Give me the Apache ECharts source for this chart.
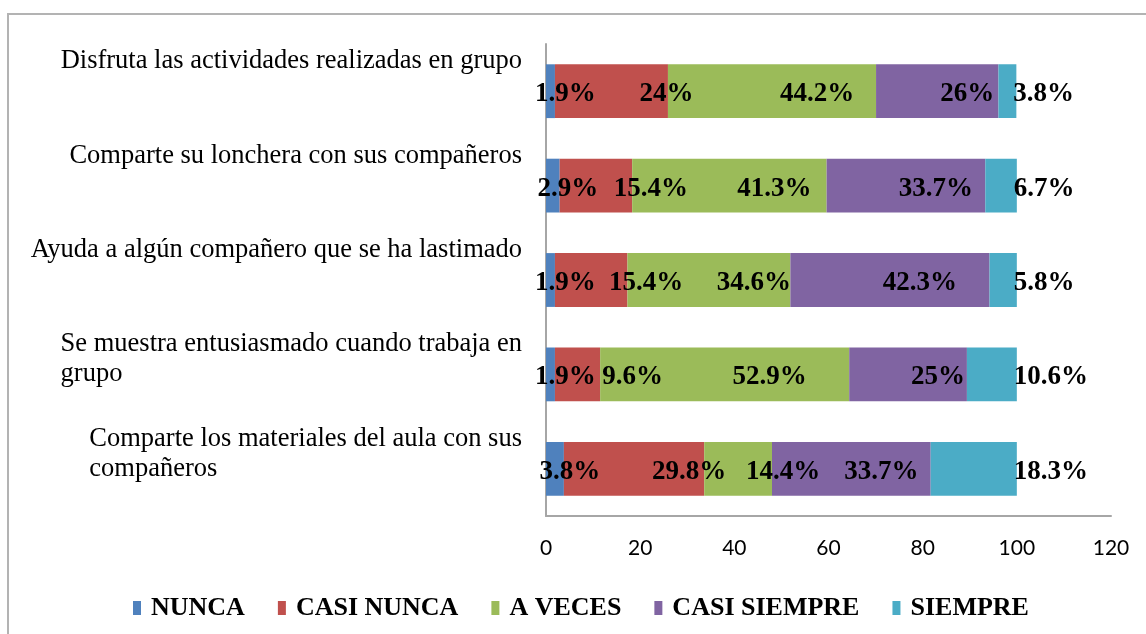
<!DOCTYPE html>
<html>
<head>
<meta charset="utf-8">
<script src="https://cdn.jsdelivr.net/npm/echarts@6/dist/echarts.min.js"></script>
<style>
  html, body { margin: 0; padding: 0; background: #fff; }
  #chart { width: 1146px; height: 634px; }
</style>
</head>
<body>
<div id="chart"></div>
<script>
// datos (porcentajes)
var categorias = [
    'Disfruta las actividades realizadas en grupo',
    'Comparte su lonchera con sus compañeros',
    'Ayuda a algún compañero que se ha lastimado',
    'Se muestra entusiasmado cuando trabaja en grupo',
    'Comparte los materiales del aula con sus compañeros'
];
var nunca        = [1.9, 2.9, 1.9, 1.9, 3.8];
var casiNunca    = [24, 15.4, 15.4, 9.6, 29.8];
var aVeces       = [44.2, 41.3, 34.6, 52.9, 14.4];
var casiSiempre  = [26, 33.7, 42.3, 25, 33.7];
var siempre      = [3.8, 6.7, 5.8, 10.6, 18.3];
var xTicks = [0, 20, 40, 60, 80, 100, 120];

var serif = '"Liberation Serif", "Times New Roman", serif';

// corta el texto en lineas de como maximo maxW px
var ctx = document.createElement('canvas').getContext('2d');
ctx.font = '26.5px ' + serif;
function cortar(text, maxW) {
    var words = text.split(' '), lines = [], cur = '';
    words.forEach(function (w) {
        var test = cur ? cur + ' ' + w : w;
        if (ctx.measureText(test).width > maxW && cur) {
            lines.push(cur);
            cur = w;
        } else {
            cur = test;
        }
    });
    lines.push(cur);
    return lines;
}

function serie(name, data, color, label) {
    return {
        name: name,
        type: 'bar',
        stack: 'total',
        barCategoryGap: '43%',
        data: data,
        itemStyle: { color: color },
        label: Object.assign({
            show: true,
            color: '#000',
            fontFamily: serif,
            fontWeight: 'bold',
            fontSize: 27,
            formatter: function (p) { return p.value + '%'; }
        }, label)
    };
}

var myChart = echarts.init(document.getElementById('chart'));
var option = {
    backgroundColor: '#fff',
    animation: false,
    graphic: [{
        type: 'rect',
        shape: { x: 8, y: 14, width: 1300, height: 800 },
        style: { fill: 'none', stroke: '#b3b3b3', lineWidth: 2 },
        silent: true
    }],
    legend: {
        left: 128,
        top: 590,
        itemWidth: 8,
        itemHeight: 14,
        itemGap: 33,
        icon: 'rect',
        textStyle: {
            fontFamily: serif,
            fontWeight: 'bold',
            fontSize: 26,
            color: '#000',
            padding: [0, 0, 0, 5]
        }
    },
    grid: {
        left: 546,
        right: 35,
        top: 44,
        bottom: 118
    },
    xAxis: {
        type: 'value',
        min: xTicks[0],
        max: xTicks[xTicks.length - 1],
        interval: xTicks[1] - xTicks[0],
        axisLine: { show: true, lineStyle: { color: '#a6a6a6', width: 2 } },
        axisTick: { show: false },
        splitLine: { show: false },
        axisLabel: {
            margin: 22,
            fontFamily: 'Lato, "Open Sans", sans-serif',
            fontSize: 21,
            color: '#000'
        }
    },
    yAxis: {
        type: 'category',
        inverse: true,
        data: categorias,
        axisLine: { show: true, lineStyle: { color: '#a6a6a6', width: 2 } },
        axisTick: { show: false },
        axisLabel: {
            interval: 0,
            margin: 24,
            verticalAlign: 'top',
            padding: [-45, 0, 0, 0],
            formatter: function (v) {
                return cortar(v, 505).map(function (l) { return '{a|' + l + '}'; }).join('\n');
            },
            rich: {
                a: {
                    align: 'left',
                    fontFamily: serif,
                    fontSize: 26.5,
                    lineHeight: 30,
                    color: '#000'
                }
            }
        }
    },
    series: [
        serie('NUNCA', nunca, '#4F81BD', { position: 'inside', offset: [15, 3] }),
        serie('CASI NUNCA', casiNunca, '#C0504D', { position: 'inside', offset: [55, 3] }),
        serie('A VECES', aVeces, '#9BBB59', { position: 'inside', offset: [45, 3] }),
        serie('CASI SIEMPRE', casiSiempre, '#8064A2', { position: 'inside', offset: [30, 3] }),
        serie('SIEMPRE', siempre, '#4BACC6', { position: 'right', distance: 0, offset: [-3, 3] })
    ]
};
myChart.setOption(option);
</script>
</body>
</html>
